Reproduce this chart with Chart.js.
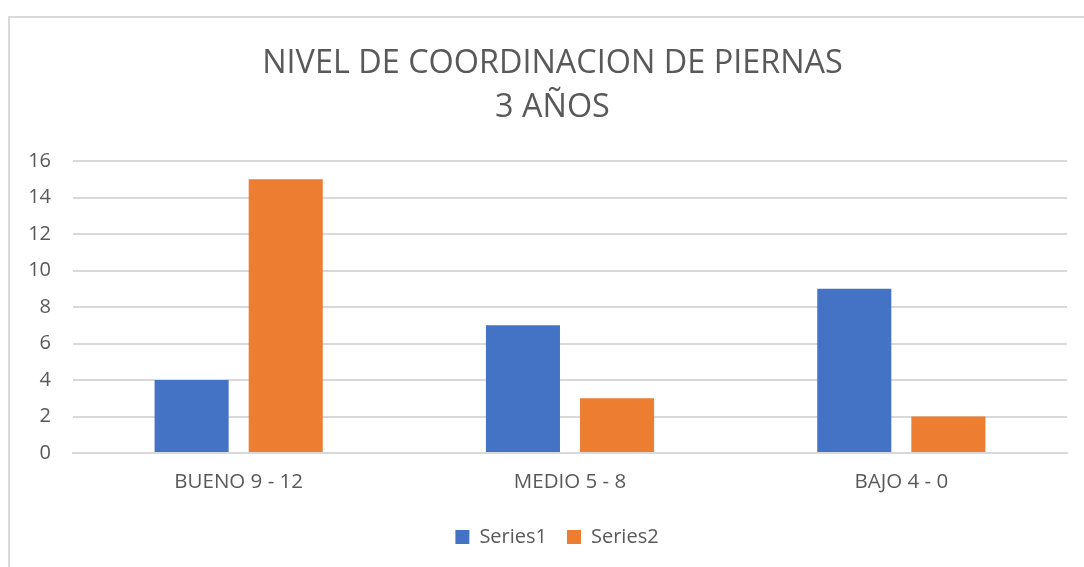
<!DOCTYPE html>
<html>
<head>
<meta charset="utf-8">
<script src="https://cdn.jsdelivr.net/npm/chart.js@4"></script>
<style>
  body { margin: 0; background: #fff; }
  #frame { position: absolute; left: 8px; top: 16px; width: 1100px; height: 600px; border: 2px solid #d9d9d9; box-sizing: border-box; }
  #wrap { position: absolute; left: 0; top: 0; width: 1084px; height: 567px; }
</style>
</head>
<body>
<div id="frame"></div>
<div id="wrap"><canvas id="chart"></canvas></div>
<script>
const categories = ["BUENO 9 - 12", "MEDIO 5 - 8", "BAJO 4 - 0"];
const series1 = [4, 7, 9];
const series2 = [15, 3, 2];
const titleLines = ["NIVEL DE COORDINACION DE PIERNAS", "3 AÑOS"];

const textColor = '#595959';
const fontFamily = "'Open Sans', 'Noto Sans', sans-serif";

// the original centres title and legend a little right of the canvas middle
const shiftBoxes = {
    id: 'shiftBoxes',
    afterLayout(chart) {
        if (chart.titleBlock) chart.titleBlock.left += 38;
        if (chart.legend) chart.legend.left += 47;
    }
};

const ctx = document.querySelector('#chart').getContext('2d');

let chart = new Chart(ctx, {
    type: 'bar',
    data: {
        labels: categories,
        datasets: [
            {
                label: 'Series1',
                data: series1,
                backgroundColor: '#4472c4',
                categoryPercentage: 0.568,
                barPercentage: 0.787
            },
            {
                label: 'Series2',
                data: series2,
                backgroundColor: '#ed7d31',
                categoryPercentage: 0.568,
                barPercentage: 0.787
            }
        ]
    },
    options: {
        responsive: true,
        maintainAspectRatio: false,
        animation: { duration: 0 },
        layout: {
            padding: { left: 0, right: 17, top: 42, bottom: 10 }
        },
        plugins: {
            title: {
                display: true,
                text: titleLines,
                color: textColor,
                font: { family: fontFamily, size: 32.4, weight: 'normal', lineHeight: 1.36 },
                padding: { top: 0, bottom: 31 }
            },
            legend: {
                position: 'bottom',
                labels: {
                    color: textColor,
                    font: { family: fontFamily, size: 20 },
                    boxWidth: 14,
                    boxHeight: 14,
                    padding: 20
                }
            },
            tooltip: { enabled: false }
        },
        scales: {
            x: {
                grid: { display: false, drawTicks: false },
                border: { color: '#d9d9d9', width: 2 },
                ticks: {
                    color: textColor,
                    font: { family: fontFamily, size: 20.5 },
                    padding: 17
                },
                afterFit: function (scale) { scale.height = 54; }
            },
            y: {
                min: 0,
                max: 16,
                ticks: {
                    stepSize: 2,
                    color: textColor,
                    font: { family: fontFamily, size: 20 },
                    padding: 22
                },
                grid: { color: '#d9d9d9', lineWidth: 2, drawTicks: false },
                border: { display: false },
                afterFit: function (scale) { scale.width = 73; }
            }
        }
    },
    plugins: [shiftBoxes]
});
</script>
</body>
</html>
